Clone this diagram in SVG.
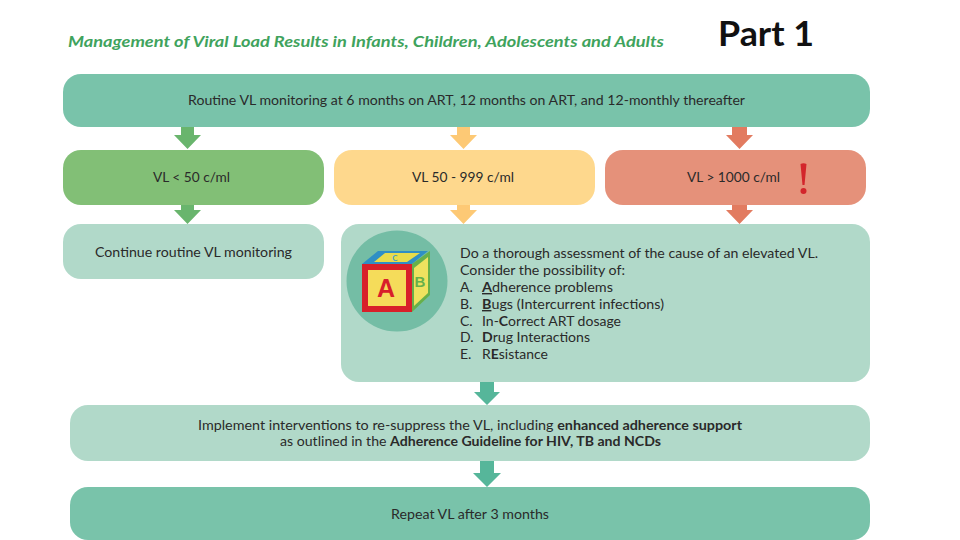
<svg xmlns="http://www.w3.org/2000/svg" width="960" height="540" viewBox="0 0 960 540">
<style>
text{font-family:Lato,"Open Sans","Liberation Sans",sans-serif;font-size:14px;fill:#2a2a2a;lengthAdjust:spacingAndGlyphs}
.c{text-anchor:middle}
.b{font-weight:700}
.teal{fill:#79c3aa}.pale{fill:#b1d9c9}.ag{fill:#69b56d}.ay{fill:#fdc975}.ar{fill:#e27b60}.at{fill:#56b69a}
</style>
<rect width="960" height="540" fill="#fff"/>
<g id="connectors">
<polygon class="ag" points="181,127 194,127 194,135 201,135 187.500,149 174,135 181,135"/>
<polygon class="ay" points="457,127 470,127 470,135 477,135 463.500,149 450,135 457,135"/>
<polygon class="ar" points="732,127 747,127 747,135 753,135 739.500,149 726,135 732,135"/>
<polygon class="ag" points="181,205 194,205 194,210 201,210 187.500,224 174,210 181,210"/>
<polygon class="ay" points="457,205 470,205 470,210 477,210 463.500,224 450,210 457,210"/>
<polygon class="ar" points="732,205 747,205 747,210 753,210 739.500,224 726,210 732,210"/>
<polygon class="at" points="480,382 494,382 494,392 500,392 487,405 474,392 480,392"/>
<polygon class="at" points="480,461 494,461 494,473 501,473 487,487 473,473 480,473"/>
</g>
<text id="title" x="68" y="47" class="b" textLength="596" lengthAdjust="spacingAndGlyphs" style="font-size:16px;font-style:italic;fill:#3fa35d">Management of Viral Load Results in Infants, Children, Adolescents and Adults</text>
<text id="part" x="718" y="46" textLength="96" lengthAdjust="spacingAndGlyphs" style="font-size:35px;font-weight:700;fill:#111">Part 1</text>
<g id="n1"><rect x="63" y="74" width="807" height="53" rx="18" class="teal"/><text x="188" y="105" textLength="557" lengthAdjust="spacingAndGlyphs">Routine VL monitoring at 6 months on ART, 12 months on ART, and 12-monthly thereafter</text></g>
<g id="n2"><rect x="63" y="150" width="261" height="55" rx="18" fill="#82bf76"/><text x="153" y="182" textLength="77" lengthAdjust="spacingAndGlyphs">VL &lt; 50 c/ml</text></g>
<g id="n3"><rect x="334" y="150" width="261" height="55" rx="18" fill="#fed88d"/><text x="412" y="182" textLength="102" lengthAdjust="spacingAndGlyphs">VL 50 - 999 c/ml</text></g>
<g id="n4"><rect x="605" y="150" width="261" height="55" rx="18" fill="#e5917a"/><text x="687" y="182" textLength="93" lengthAdjust="spacingAndGlyphs">VL &gt; 1000 c/ml</text><path d="M800.500 164q3-1.500 6 0l-2 21h-2z" fill="#d3252b"/><circle cx="803.500" cy="191" r="3" fill="#d3252b"/></g>
<g id="n5"><rect x="63" y="224" width="261" height="55" rx="18" class="pale"/><text x="95" y="257" textLength="197" lengthAdjust="spacingAndGlyphs">Continue routine VL monitoring</text></g>
<g id="n6"><rect x="341" y="224" width="529" height="158" rx="18" class="pale"/>
<circle cx="397" cy="281" r="50.500" fill="#74bda5"/>
<polygon points="362,264 378,251 428,251 412,264" fill="#2f8fc4"/><polygon points="374,262 385,253 420,253 407,262" fill="#e8dc4a"/>
<polygon points="412,264 430,251 430,295 412,312" fill="#67b04a"/><polygon points="414,268 428,257 428,293 414,306" fill="#efe25f"/>
<rect x="362" y="264" width="50" height="48" fill="#d8202a"/><rect x="368" y="270" width="38" height="36" fill="#f5dc5a"/>
<text x="386" y="297" class="c b" style="font-family:'Liberation Sans',sans-serif;font-size:25px;fill:#d8202a">A</text>
<text x="395" y="261" class="c b" style="font-size:8px;fill:#4aa0c0">C</text>
<text x="420" y="287" class="c b" style="font-family:'Liberation Sans',sans-serif;font-size:15px;fill:#67b04a">B</text>
<text x="460" y="258" textLength="358" lengthAdjust="spacingAndGlyphs">Do a thorough assessment of the cause of an elevated VL.</text>
<text x="460" y="275" textLength="165" lengthAdjust="spacingAndGlyphs">Consider the possibility of:</text>
<text x="460" y="292">A.</text><text x="482" y="292" textLength="131" lengthAdjust="spacingAndGlyphs"><tspan class="b" text-decoration="underline">A</tspan>dherence problems</text>
<text x="460" y="309">B.</text><text x="482" y="309" textLength="182" lengthAdjust="spacingAndGlyphs"><tspan class="b" text-decoration="underline">B</tspan>ugs (Intercurrent infections)</text>
<text x="460" y="326">C.</text><text x="482" y="326" textLength="139" lengthAdjust="spacingAndGlyphs">In-<tspan class="b">C</tspan>orrect ART dosage</text>
<text x="460" y="342">D.</text><text x="482" y="342" textLength="108" lengthAdjust="spacingAndGlyphs"><tspan class="b">D</tspan>rug Interactions</text>
<text x="460" y="359">E.</text><text x="482" y="359" textLength="66" lengthAdjust="spacingAndGlyphs">R<tspan class="b">E</tspan>sistance</text></g>
<g id="n7"><rect x="70" y="405" width="800" height="56" rx="18" class="pale"/>
<text x="198" y="430" textLength="544" lengthAdjust="spacingAndGlyphs">Implement interventions to re-suppress the VL, including <tspan class="b">enhanced adherence support</tspan></text>
<text x="280" y="446" textLength="381" lengthAdjust="spacingAndGlyphs">as outlined in the <tspan class="b">Adherence Guideline for HIV, TB and NCDs</tspan></text></g>
<g id="n8"><rect x="70" y="487" width="800" height="53" rx="18" class="teal"/><text x="391" y="519" textLength="158" lengthAdjust="spacingAndGlyphs">Repeat VL after 3 months</text></g>
</svg>
